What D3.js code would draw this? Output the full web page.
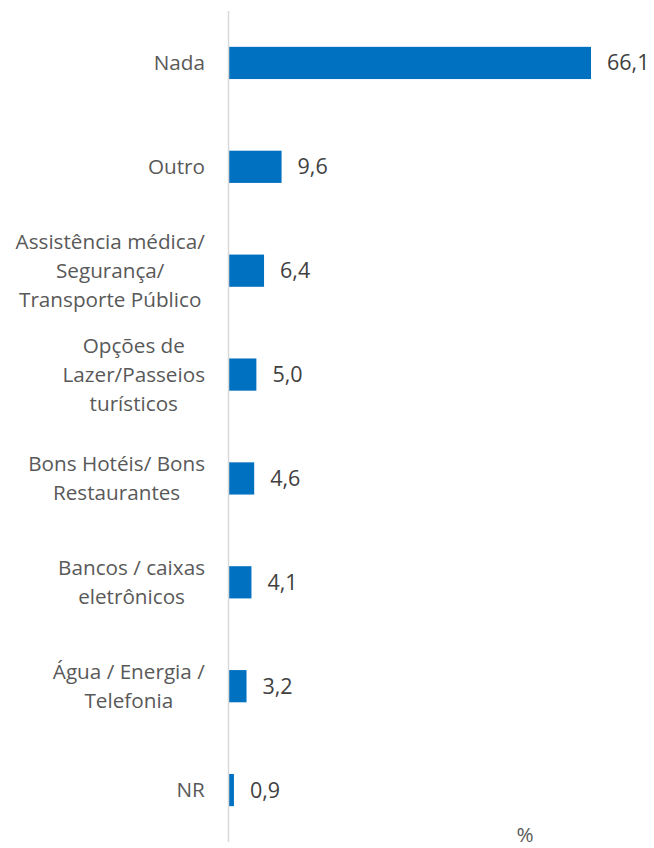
<!DOCTYPE html>
<meta charset="utf-8">
<style>

body {
  margin: 0;
  background: #fff;
}

.cat {
  font: 20.7px "Open Sans", sans-serif;
  fill: #595959;
}

.val {
  font: 21.5px "Open Sans", sans-serif;
  fill: #404040;
}

</style>

<body>
  <svg width="654" height="848"></svg>

  <script src="https://cdnjs.cloudflare.com/ajax/libs/d3/7.8.5/d3.min.js"></script>
  <script>

  // categories, top to bottom ("|" marks a line break in the label)
  var categories = [
    "Nada",
    "Outro",
    "Assistência médica/|Segurança/|Transporte Público",
    "Opções de|Lazer/Passeios|turísticos",
    "Bons Hotéis/ Bons|Restaurantes",
    "Bancos / caixas|eletrônicos",
    "Água / Energia /|Telefonia",
    "NR"
  ];
  var values = [66.1, 9.6, 6.4, 5.0, 4.6, 4.1, 3.2, 0.9];
  var unitLabel = "%";

  var svg = d3.select("svg"),
      margin = {top: 11, left: 229},
      chartHeight = 831,
      lineHeight = 29;

  var data = categories.map(function(c, i) { return {cat: c, value: values[i]}; });

  var x = d3.scaleLinear()
      .domain([0, 66.1])
      .range([margin.left, 591]);

  var y = d3.scaleBand()
      .domain(categories)
      .range([margin.top, margin.top + chartHeight])
      .paddingInner(0.69)
      .paddingOuter(0.345);

  // bars
  svg.append("g")
    .selectAll("rect")
    .data(data)
    .enter().append("rect")
      .attr("x", x(0))
      .attr("y", function(d) { return y(d.cat); })
      .attr("width", function(d) { return x(d.value) - x(0); })
      .attr("height", y.bandwidth())
      .attr("fill", "#0070c0");

  // vertical axis line
  svg.append("line")
      .attr("x1", x(0) - 0.5)
      .attr("x2", x(0) - 0.5)
      .attr("y1", margin.top)
      .attr("y2", margin.top + chartHeight)
      .attr("stroke", "#d9d9d9")
      .attr("stroke-width", 1.5);

  // value labels
  svg.append("g")
    .selectAll("text")
    .data(data)
    .enter().append("text")
      .attr("class", "val")
      .attr("x", function(d) { return x(d.value) + 16; })
      .attr("y", function(d) { return y(d.cat) + y.bandwidth() / 2; })
      .attr("dy", "0.35em")
      .text(function(d) { return d3.format(".1f")(d.value).replace(".", ","); });

  // category labels, multi-line, centred on the bar
  var cats = svg.append("g")
    .selectAll("text")
    .data(data)
    .enter().append("text")
      .attr("class", "cat")
      .attr("text-anchor", "middle")
      .attr("y", function(d) { return y(d.cat) + y.bandwidth() / 2; });

  cats.each(function(d) {
    var lines = d.cat.split("|"),
        t = d3.select(this),
        fs = parseFloat(getComputedStyle(this).fontSize),
        off = -(lines.length - 1) / 2;
    lines.forEach(function(line, i) {
      t.append("tspan")
          .attr("x", 0)
          .attr("dy", i === 0 ? (off * lineHeight / fs + 0.35) + "em" : (lineHeight / fs) + "em")
          .text(line);
    });
    // widest line ends at x = 205; every line is centred on that block
    var w = this.getBBox().width;
    t.attr("transform", "translate(" + (205 - w / 2) + ",0)");
  });

  svg.append("text")
      .attr("class", "cat")
      .attr("text-anchor", "middle")
      .attr("x", 525)
      .attr("y", 842)
      .text(unitLabel);

  </script>
</body>
